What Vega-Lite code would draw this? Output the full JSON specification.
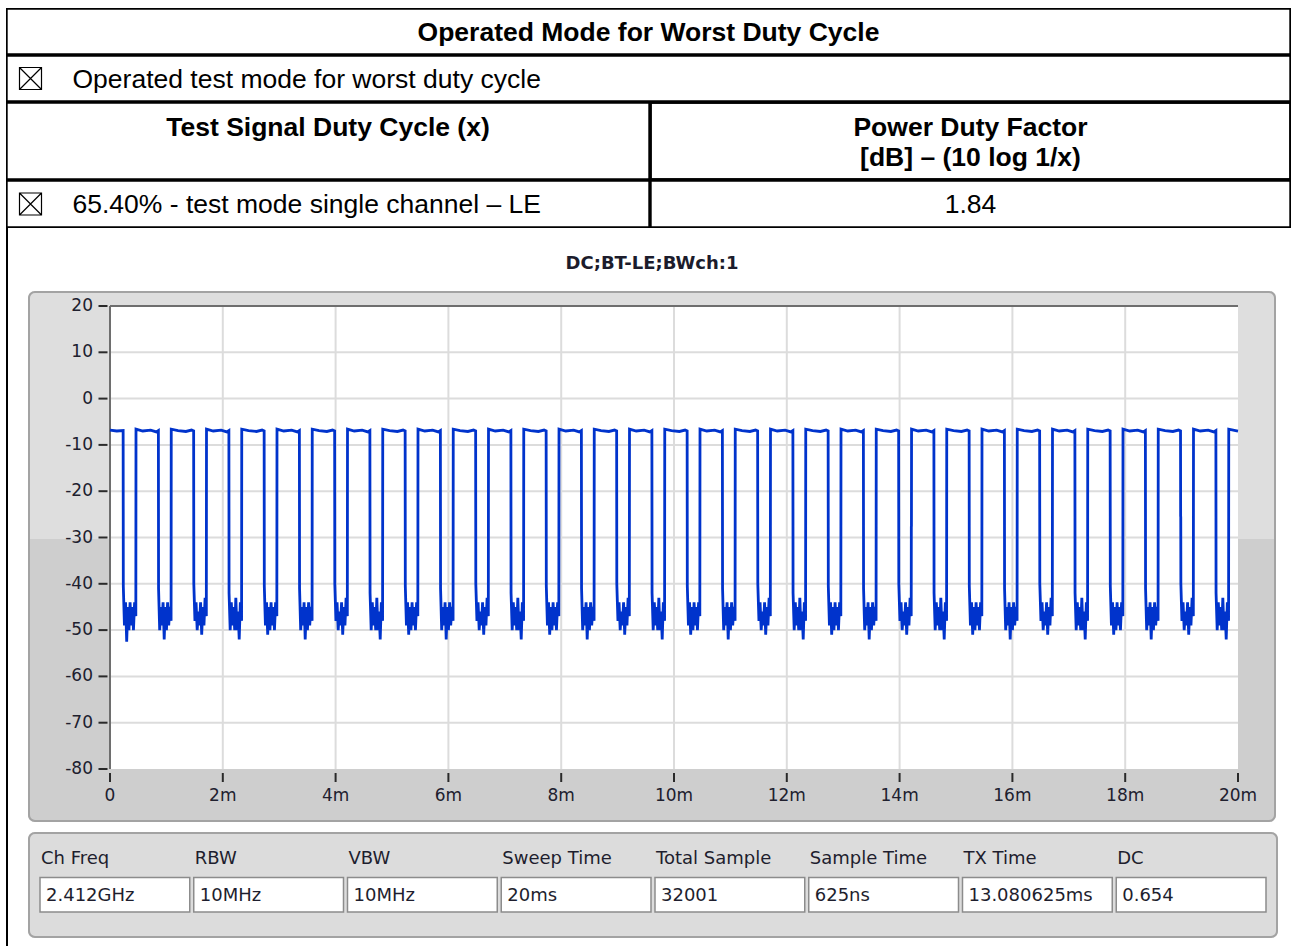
{
"$schema": "https://vega.github.io/schema/vega-lite/v6.json",
"background": "white",
"padding": {"left": 6, "top": 8, "right": 0, "bottom": 0},
"autosize": {"type": "pad"},
"config": {
  "view": {"stroke": null},
  "text": {"font": "Liberation Sans", "fontSize": 26.5, "color": "black", "baseline": "middle"}
},
"datasets": {
  "gridTime": [{"t":2},{"t":4},{"t":6},{"t":8},{"t":10},{"t":12},{"t":14},{"t":16},{"t":18}],
  "gridLevel": [{"v":-70},{"v":-60},{"v":-50},{"v":-40},{"v":-30},{"v":-20},{"v":-10},{"v":0},{"v":10}],
  "yTicks": [{"v":-80,"label":"-80"},{"v":-70,"label":"-70"},{"v":-60,"label":"-60"},{"v":-50,"label":"-50"},{"v":-40,"label":"-40"},{"v":-30,"label":"-30"},{"v":-20,"label":"-20"},{"v":-10,"label":"-10"},{"v":0,"label":"0"},{"v":10,"label":"10"},{"v":20,"label":"20"}],
  "xTicks": [{"t":0,"label":"0"},{"t":2,"label":"2m"},{"t":4,"label":"4m"},{"t":6,"label":"6m"},{"t":8,"label":"8m"},{"t":10,"label":"10m"},{"t":12,"label":"12m"},{"t":14,"label":"14m"},{"t":16,"label":"16m"},{"t":18,"label":"18m"},{"t":20,"label":"20m"}],
  "settings": [{"item":"Ch Freq","value":"2.412GHz"},{"item":"RBW","value":"10MHz"},{"item":"VBW","value":"10MHz"},{"item":"Sweep Time","value":"20ms"},{"item":"Total Sample","value":"32001"},{"item":"Sample Time","value":"625ns"},{"item":"TX Time","value":"13.080625ms"},{"item":"DC","value":"0.654"}],
  "trace": [
{"t":0,"v":-6.8},{"t":0.12,"v":-7},{"t":0.233,"v":-6.9},
{"t":0.236,"v":-40.5},{"t":0.256,"v":-49},{"t":0.276,"v":-44},{"t":0.296,"v":-52.5},{"t":0.316,"v":-45},{"t":0.336,"v":-50},{"t":0.356,"v":-44},{"t":0.376,"v":-49},{"t":0.396,"v":-45},{"t":0.416,"v":-50},{"t":0.436,"v":-44},{"t":0.458,"v":-47},{"t":0.461,"v":-6.6},{"t":0.581,"v":-7},{"t":0.721,"v":-6.8},{"t":0.821,"v":-7.2},{"t":0.858,"v":-6.9},
{"t":0.861,"v":-41},{"t":0.881,"v":-50},{"t":0.901,"v":-45},{"t":0.921,"v":-49},{"t":0.941,"v":-44},{"t":0.961,"v":-52},{"t":0.981,"v":-45},{"t":1.001,"v":-50},{"t":1.021,"v":-44},{"t":1.041,"v":-49},{"t":1.061,"v":-45},{"t":1.083,"v":-48},{"t":1.086,"v":-6.6},{"t":1.206,"v":-6.9},{"t":1.346,"v":-7.1},{"t":1.446,"v":-6.8},{"t":1.483,"v":-7},
{"t":1.486,"v":-40},{"t":1.506,"v":-48},{"t":1.526,"v":-44},{"t":1.546,"v":-50},{"t":1.566,"v":-46},{"t":1.586,"v":-49},{"t":1.606,"v":-44},{"t":1.626,"v":-51},{"t":1.646,"v":-45},{"t":1.666,"v":-49},{"t":1.686,"v":-43},{"t":1.708,"v":-47},{"t":1.711,"v":-6.6},{"t":1.831,"v":-7},{"t":1.971,"v":-6.8},{"t":2.071,"v":-7.2},{"t":2.108,"v":-6.9},
{"t":2.111,"v":-42},{"t":2.131,"v":-50},{"t":2.151,"v":-44},{"t":2.171,"v":-49},{"t":2.191,"v":-45},{"t":2.211,"v":-50},{"t":2.231,"v":-43},{"t":2.251,"v":-50},{"t":2.271,"v":-46},{"t":2.291,"v":-52},{"t":2.311,"v":-44},{"t":2.333,"v":-48},{"t":2.336,"v":-6.6},{"t":2.456,"v":-6.9},{"t":2.596,"v":-7.1},{"t":2.696,"v":-6.8},{"t":2.733,"v":-7},
{"t":2.736,"v":-40.5},{"t":2.756,"v":-49},{"t":2.776,"v":-44},{"t":2.796,"v":-51},{"t":2.816,"v":-45},{"t":2.836,"v":-50},{"t":2.856,"v":-44},{"t":2.876,"v":-49},{"t":2.896,"v":-45},{"t":2.916,"v":-50},{"t":2.936,"v":-44},{"t":2.958,"v":-47},{"t":2.961,"v":-6.6},{"t":3.081,"v":-7},{"t":3.221,"v":-6.8},{"t":3.321,"v":-7.2},{"t":3.358,"v":-6.9},
{"t":3.361,"v":-41},{"t":3.381,"v":-50},{"t":3.401,"v":-45},{"t":3.421,"v":-49},{"t":3.441,"v":-44},{"t":3.461,"v":-52},{"t":3.481,"v":-45},{"t":3.501,"v":-50},{"t":3.521,"v":-44},{"t":3.541,"v":-49},{"t":3.561,"v":-45},{"t":3.583,"v":-48},{"t":3.586,"v":-6.6},{"t":3.706,"v":-6.9},{"t":3.846,"v":-7.1},{"t":3.946,"v":-6.8},{"t":3.983,"v":-7},
{"t":3.986,"v":-40},{"t":4.006,"v":-48},{"t":4.026,"v":-44},{"t":4.046,"v":-50},{"t":4.066,"v":-46},{"t":4.086,"v":-49},{"t":4.106,"v":-44},{"t":4.126,"v":-51},{"t":4.146,"v":-45},{"t":4.166,"v":-49},{"t":4.186,"v":-43},{"t":4.208,"v":-47},{"t":4.211,"v":-6.6},{"t":4.331,"v":-7},{"t":4.471,"v":-6.8},{"t":4.571,"v":-7.2},{"t":4.608,"v":-6.9},
{"t":4.611,"v":-42},{"t":4.631,"v":-50},{"t":4.651,"v":-44},{"t":4.671,"v":-49},{"t":4.691,"v":-45},{"t":4.711,"v":-50},{"t":4.731,"v":-43},{"t":4.751,"v":-50},{"t":4.771,"v":-46},{"t":4.791,"v":-52},{"t":4.811,"v":-44},{"t":4.833,"v":-48},{"t":4.836,"v":-6.6},{"t":4.956,"v":-6.9},{"t":5.096,"v":-7.1},{"t":5.196,"v":-6.8},{"t":5.233,"v":-7},
{"t":5.236,"v":-40.5},{"t":5.256,"v":-49},{"t":5.276,"v":-44},{"t":5.296,"v":-51},{"t":5.316,"v":-45},{"t":5.336,"v":-50},{"t":5.356,"v":-44},{"t":5.376,"v":-49},{"t":5.396,"v":-45},{"t":5.416,"v":-50},{"t":5.436,"v":-44},{"t":5.458,"v":-47},{"t":5.461,"v":-6.6},{"t":5.581,"v":-7},{"t":5.721,"v":-6.8},{"t":5.821,"v":-7.2},{"t":5.858,"v":-6.9},
{"t":5.861,"v":-41},{"t":5.881,"v":-50},{"t":5.901,"v":-45},{"t":5.921,"v":-49},{"t":5.941,"v":-44},{"t":5.961,"v":-52},{"t":5.981,"v":-45},{"t":6.001,"v":-50},{"t":6.021,"v":-44},{"t":6.041,"v":-49},{"t":6.061,"v":-45},{"t":6.083,"v":-48},{"t":6.086,"v":-6.6},{"t":6.206,"v":-6.9},{"t":6.346,"v":-7.1},{"t":6.446,"v":-6.8},{"t":6.483,"v":-7},
{"t":6.486,"v":-40},{"t":6.506,"v":-48},{"t":6.526,"v":-44},{"t":6.546,"v":-50},{"t":6.566,"v":-46},{"t":6.586,"v":-49},{"t":6.606,"v":-44},{"t":6.626,"v":-51},{"t":6.646,"v":-45},{"t":6.666,"v":-49},{"t":6.686,"v":-43},{"t":6.708,"v":-47},{"t":6.711,"v":-6.6},{"t":6.831,"v":-7},{"t":6.971,"v":-6.8},{"t":7.071,"v":-7.2},{"t":7.108,"v":-6.9},
{"t":7.111,"v":-42},{"t":7.131,"v":-50},{"t":7.151,"v":-44},{"t":7.171,"v":-49},{"t":7.191,"v":-45},{"t":7.211,"v":-50},{"t":7.231,"v":-43},{"t":7.251,"v":-50},{"t":7.271,"v":-46},{"t":7.291,"v":-52},{"t":7.311,"v":-44},{"t":7.333,"v":-48},{"t":7.336,"v":-6.6},{"t":7.456,"v":-6.9},{"t":7.596,"v":-7.1},{"t":7.696,"v":-6.8},{"t":7.733,"v":-7},
{"t":7.736,"v":-40.5},{"t":7.756,"v":-49},{"t":7.776,"v":-44},{"t":7.796,"v":-51},{"t":7.816,"v":-45},{"t":7.836,"v":-50},{"t":7.856,"v":-44},{"t":7.876,"v":-49},{"t":7.896,"v":-45},{"t":7.916,"v":-50},{"t":7.936,"v":-44},{"t":7.958,"v":-47},{"t":7.961,"v":-6.6},{"t":8.081,"v":-7},{"t":8.221,"v":-6.8},{"t":8.321,"v":-7.2},{"t":8.358,"v":-6.9},
{"t":8.361,"v":-41},{"t":8.381,"v":-50},{"t":8.401,"v":-45},{"t":8.421,"v":-49},{"t":8.441,"v":-44},{"t":8.461,"v":-52},{"t":8.481,"v":-45},{"t":8.501,"v":-50},{"t":8.521,"v":-44},{"t":8.541,"v":-49},{"t":8.561,"v":-45},{"t":8.583,"v":-48},{"t":8.586,"v":-6.6},{"t":8.706,"v":-6.9},{"t":8.846,"v":-7.1},{"t":8.946,"v":-6.8},{"t":8.983,"v":-7},
{"t":8.986,"v":-40},{"t":9.006,"v":-48},{"t":9.026,"v":-44},{"t":9.046,"v":-50},{"t":9.066,"v":-46},{"t":9.086,"v":-49},{"t":9.106,"v":-44},{"t":9.126,"v":-51},{"t":9.146,"v":-45},{"t":9.166,"v":-49},{"t":9.186,"v":-43},{"t":9.208,"v":-47},{"t":9.211,"v":-6.6},{"t":9.331,"v":-7},{"t":9.471,"v":-6.8},{"t":9.571,"v":-7.2},{"t":9.608,"v":-6.9},
{"t":9.611,"v":-42},{"t":9.631,"v":-50},{"t":9.651,"v":-44},{"t":9.671,"v":-49},{"t":9.691,"v":-45},{"t":9.711,"v":-50},{"t":9.731,"v":-43},{"t":9.751,"v":-50},{"t":9.771,"v":-46},{"t":9.791,"v":-52},{"t":9.811,"v":-44},{"t":9.833,"v":-48},{"t":9.836,"v":-6.6},{"t":9.956,"v":-6.9},{"t":10.096,"v":-7.1},{"t":10.196,"v":-6.8},{"t":10.233,"v":-7},
{"t":10.236,"v":-40.5},{"t":10.256,"v":-49},{"t":10.276,"v":-44},{"t":10.296,"v":-51},{"t":10.316,"v":-45},{"t":10.336,"v":-50},{"t":10.356,"v":-44},{"t":10.376,"v":-49},{"t":10.396,"v":-45},{"t":10.416,"v":-50},{"t":10.436,"v":-44},{"t":10.458,"v":-47},{"t":10.461,"v":-6.6},{"t":10.581,"v":-7},{"t":10.721,"v":-6.8},{"t":10.821,"v":-7.2},{"t":10.858,"v":-6.9},
{"t":10.861,"v":-41},{"t":10.881,"v":-50},{"t":10.901,"v":-45},{"t":10.921,"v":-49},{"t":10.941,"v":-44},{"t":10.961,"v":-52},{"t":10.981,"v":-45},{"t":11.001,"v":-50},{"t":11.021,"v":-44},{"t":11.041,"v":-49},{"t":11.061,"v":-45},{"t":11.083,"v":-48},{"t":11.086,"v":-6.6},{"t":11.206,"v":-6.9},{"t":11.346,"v":-7.1},{"t":11.446,"v":-6.8},{"t":11.483,"v":-7},
{"t":11.486,"v":-40},{"t":11.506,"v":-48},{"t":11.526,"v":-44},{"t":11.546,"v":-50},{"t":11.566,"v":-46},{"t":11.586,"v":-49},{"t":11.606,"v":-44},{"t":11.626,"v":-51},{"t":11.646,"v":-45},{"t":11.666,"v":-49},{"t":11.686,"v":-43},{"t":11.708,"v":-47},{"t":11.711,"v":-6.6},{"t":11.831,"v":-7},{"t":11.971,"v":-6.8},{"t":12.071,"v":-7.2},{"t":12.108,"v":-6.9},
{"t":12.111,"v":-42},{"t":12.131,"v":-50},{"t":12.151,"v":-44},{"t":12.171,"v":-49},{"t":12.191,"v":-45},{"t":12.211,"v":-50},{"t":12.231,"v":-43},{"t":12.251,"v":-50},{"t":12.271,"v":-46},{"t":12.291,"v":-52},{"t":12.311,"v":-44},{"t":12.333,"v":-48},{"t":12.336,"v":-6.6},{"t":12.456,"v":-6.9},{"t":12.596,"v":-7.1},{"t":12.696,"v":-6.8},{"t":12.733,"v":-7},
{"t":12.736,"v":-40.5},{"t":12.756,"v":-49},{"t":12.776,"v":-44},{"t":12.796,"v":-51},{"t":12.816,"v":-45},{"t":12.836,"v":-50},{"t":12.856,"v":-44},{"t":12.876,"v":-49},{"t":12.896,"v":-45},{"t":12.916,"v":-50},{"t":12.936,"v":-44},{"t":12.958,"v":-47},{"t":12.961,"v":-6.6},{"t":13.081,"v":-7},{"t":13.221,"v":-6.8},{"t":13.321,"v":-7.2},{"t":13.358,"v":-6.9},
{"t":13.361,"v":-41},{"t":13.381,"v":-50},{"t":13.401,"v":-45},{"t":13.421,"v":-49},{"t":13.441,"v":-44},{"t":13.461,"v":-52},{"t":13.481,"v":-45},{"t":13.501,"v":-50},{"t":13.521,"v":-44},{"t":13.541,"v":-49},{"t":13.561,"v":-45},{"t":13.583,"v":-48},{"t":13.586,"v":-6.6},{"t":13.706,"v":-6.9},{"t":13.846,"v":-7.1},{"t":13.946,"v":-6.8},{"t":13.983,"v":-7},
{"t":13.986,"v":-40},{"t":14.006,"v":-48},{"t":14.026,"v":-44},{"t":14.046,"v":-50},{"t":14.066,"v":-46},{"t":14.086,"v":-49},{"t":14.106,"v":-44},{"t":14.126,"v":-51},{"t":14.146,"v":-45},{"t":14.166,"v":-49},{"t":14.186,"v":-43},{"t":14.206,"v":-47},{"t":14.208,"v":-27.7},{"t":14.21,"v":-27.5},{"t":14.212,"v":-6.6},{"t":14.331,"v":-7},{"t":14.471,"v":-6.8},{"t":14.571,"v":-7.2},{"t":14.608,"v":-6.9},
{"t":14.611,"v":-42},{"t":14.631,"v":-50},{"t":14.651,"v":-44},{"t":14.671,"v":-49},{"t":14.691,"v":-45},{"t":14.711,"v":-50},{"t":14.731,"v":-43},{"t":14.751,"v":-50},{"t":14.771,"v":-46},{"t":14.791,"v":-52},{"t":14.811,"v":-44},{"t":14.833,"v":-48},{"t":14.836,"v":-6.6},{"t":14.956,"v":-6.9},{"t":15.096,"v":-7.1},{"t":15.196,"v":-6.8},{"t":15.233,"v":-7},
{"t":15.236,"v":-40.5},{"t":15.256,"v":-49},{"t":15.276,"v":-44},{"t":15.296,"v":-51},{"t":15.316,"v":-45},{"t":15.336,"v":-50},{"t":15.356,"v":-44},{"t":15.376,"v":-49},{"t":15.396,"v":-45},{"t":15.416,"v":-50},{"t":15.436,"v":-44},{"t":15.458,"v":-47},{"t":15.461,"v":-6.6},{"t":15.581,"v":-7},{"t":15.721,"v":-6.8},{"t":15.821,"v":-7.2},{"t":15.858,"v":-6.9},
{"t":15.861,"v":-41},{"t":15.881,"v":-50},{"t":15.901,"v":-45},{"t":15.921,"v":-49},{"t":15.941,"v":-44},{"t":15.961,"v":-52},{"t":15.981,"v":-45},{"t":16.001,"v":-50},{"t":16.021,"v":-44},{"t":16.041,"v":-49},{"t":16.061,"v":-45},{"t":16.083,"v":-48},{"t":16.086,"v":-6.6},{"t":16.206,"v":-6.9},{"t":16.346,"v":-7.1},{"t":16.446,"v":-6.8},{"t":16.483,"v":-7},
{"t":16.486,"v":-40},{"t":16.506,"v":-48},{"t":16.526,"v":-44},{"t":16.546,"v":-50},{"t":16.566,"v":-46},{"t":16.586,"v":-49},{"t":16.606,"v":-44},{"t":16.626,"v":-51},{"t":16.646,"v":-45},{"t":16.666,"v":-49},{"t":16.686,"v":-43},{"t":16.708,"v":-47},{"t":16.711,"v":-6.6},{"t":16.831,"v":-7},{"t":16.971,"v":-6.8},{"t":17.071,"v":-7.2},{"t":17.108,"v":-6.9},
{"t":17.111,"v":-42},{"t":17.131,"v":-50},{"t":17.151,"v":-44},{"t":17.171,"v":-49},{"t":17.191,"v":-45},{"t":17.211,"v":-50},{"t":17.231,"v":-43},{"t":17.251,"v":-50},{"t":17.271,"v":-46},{"t":17.291,"v":-52},{"t":17.311,"v":-44},{"t":17.333,"v":-48},{"t":17.336,"v":-6.6},{"t":17.456,"v":-6.9},{"t":17.596,"v":-7.1},{"t":17.696,"v":-6.8},{"t":17.733,"v":-7},
{"t":17.736,"v":-40.5},{"t":17.756,"v":-49},{"t":17.776,"v":-44},{"t":17.796,"v":-51},{"t":17.816,"v":-45},{"t":17.836,"v":-50},{"t":17.856,"v":-44},{"t":17.876,"v":-49},{"t":17.896,"v":-45},{"t":17.916,"v":-50},{"t":17.936,"v":-44},{"t":17.958,"v":-47},{"t":17.961,"v":-6.6},{"t":18.081,"v":-7},{"t":18.221,"v":-6.8},{"t":18.321,"v":-7.2},{"t":18.358,"v":-6.9},
{"t":18.361,"v":-41},{"t":18.381,"v":-50},{"t":18.401,"v":-45},{"t":18.421,"v":-49},{"t":18.441,"v":-44},{"t":18.461,"v":-52},{"t":18.481,"v":-45},{"t":18.501,"v":-50},{"t":18.521,"v":-44},{"t":18.541,"v":-49},{"t":18.561,"v":-45},{"t":18.583,"v":-48},{"t":18.586,"v":-6.6},{"t":18.706,"v":-6.9},{"t":18.846,"v":-7.1},{"t":18.946,"v":-6.8},{"t":18.981,"v":-7},
{"t":18.983,"v":-25.4},{"t":18.985,"v":-25.6},{"t":18.987,"v":-40},{"t":19.006,"v":-48},{"t":19.026,"v":-44},{"t":19.046,"v":-50},{"t":19.066,"v":-46},{"t":19.086,"v":-49},{"t":19.106,"v":-44},{"t":19.126,"v":-51},{"t":19.146,"v":-45},{"t":19.166,"v":-49},{"t":19.186,"v":-43},{"t":19.208,"v":-47},{"t":19.211,"v":-6.6},{"t":19.331,"v":-7},{"t":19.471,"v":-6.8},{"t":19.571,"v":-7.2},{"t":19.608,"v":-6.9},
{"t":19.611,"v":-42},{"t":19.631,"v":-50},{"t":19.651,"v":-44},{"t":19.671,"v":-49},{"t":19.691,"v":-45},{"t":19.711,"v":-50},{"t":19.731,"v":-43},{"t":19.751,"v":-50},{"t":19.771,"v":-46},{"t":19.791,"v":-52},{"t":19.811,"v":-44},{"t":19.833,"v":-48},{"t":19.836,"v":-6.6},{"t":19.956,"v":-6.9},{"t":20,"v":-7}
  ]
},
"spacing": 0,
"vconcat": [
  {
    "width": 1285, "height": 47,
    "data": {"values": [{"heading": "Operated Mode for Worst Duty Cycle"}]},
    "resolve": {"scale": {"x": "independent", "y": "independent"}},
    "layer": [
      {
        "mark": {"type": "text", "fontWeight": "bold", "dy": 1.5},
        "encoding": {"x": {"field": "heading", "type": "nominal", "axis": null}, "text": {"field": "heading"}}
      },
      {"mark": {"type": "rect", "filled": false, "stroke": "black", "strokeWidth": 3.4, "clip": true}, "encoding": {}}
    ]
  },
  {
    "width": 1285, "height": 47,
    "data": {"values": [{"status": "checked", "label": "Operated test mode for worst duty cycle"}]},
    "resolve": {"scale": {"x": "independent", "y": "independent"}},
    "layer": [
      {
        "layer": [
          {
            "mark": {"type": "point", "shape": "M-1,-1L1,-1L1,1L-1,1Z M-1,-1L1,1 M1,-1L-1,1", "filled": false, "stroke": "black", "strokeWidth": 1.2, "size": 484, "opacity": 1, "dy": 1.5},
            "encoding": {"x": {"datum": "box", "scale": {"domain": ["box", "label"], "range": [24.5, 66.5], "padding": 0}, "axis": null}}
          },
          {
            "mark": {"type": "text", "align": "left", "dy": 1.5},
            "encoding": {"x": {"datum": "label", "axis": null}, "text": {"field": "label"}}
          }
        ]
      },
      {"mark": {"type": "rect", "filled": false, "stroke": "black", "strokeWidth": 3.4, "clip": true}, "encoding": {}}
    ]
  },
  {
    "spacing": 0,
    "hconcat": [
      {
        "width": 644, "height": 78,
        "data": {"values": [{"line": 1, "text": "Test Signal Duty Cycle (x)"}]},
        "resolve": {"scale": {"x": "independent", "y": "independent"}},
        "layer": [
          {
            "mark": {"type": "text", "fontWeight": "bold", "dy": 1.5},
            "encoding": {
              "x": {"datum": "header", "axis": null},
              "y": {"field": "line", "type": "ordinal", "scale": {"domain": [1, 2], "padding": 0.8}, "axis": null},
              "text": {"field": "text"}
            }
          },
          {"mark": {"type": "rect", "filled": false, "stroke": "black", "strokeWidth": 3.4, "clip": true}, "encoding": {}}
        ]
      },
      {
        "width": 641, "height": 78,
        "data": {"values": [{"line": 1, "text": "Power Duty Factor"}, {"line": 2, "text": "[dB] – (10 log 1/x)"}]},
        "resolve": {"scale": {"x": "independent", "y": "independent"}},
        "layer": [
          {
            "mark": {"type": "text", "fontWeight": "bold", "dy": 1.5},
            "encoding": {
              "x": {"datum": "header", "axis": null},
              "y": {"field": "line", "type": "ordinal", "scale": {"domain": [1, 2], "padding": 0.8}, "axis": null},
              "text": {"field": "text"}
            }
          },
          {"mark": {"type": "rect", "filled": false, "stroke": "black", "strokeWidth": 3.4, "clip": true}, "encoding": {}}
        ]
      }
    ]
  },
  {
    "spacing": 0,
    "hconcat": [
      {
        "width": 644, "height": 48,
        "data": {"values": [{"status": "checked", "label": "65.40% - test mode single channel – LE"}]},
        "resolve": {"scale": {"x": "independent", "y": "independent"}},
        "layer": [
          {
            "layer": [
              {
                "mark": {"type": "point", "shape": "M-1,-1L1,-1L1,1L-1,1Z M-1,-1L1,1 M1,-1L-1,1", "filled": false, "stroke": "black", "strokeWidth": 1.2, "size": 484, "opacity": 1, "dy": 1},
                "encoding": {"x": {"datum": "box", "scale": {"domain": ["box", "label"], "range": [24.5, 66.5], "padding": 0}, "axis": null}}
              },
              {
                "mark": {"type": "text", "align": "left", "dy": 1},
                "encoding": {"x": {"datum": "label", "axis": null}, "text": {"field": "label"}}
              }
            ]
          },
          {"mark": {"type": "rect", "filled": false, "stroke": "black", "strokeWidth": 3.4, "clip": true}, "encoding": {}}
        ]
      },
      {
        "width": 641, "height": 48,
        "data": {"values": [{"factor": "1.84"}]},
        "resolve": {"scale": {"x": "independent", "y": "independent"}},
        "layer": [
          {
            "mark": {"type": "text", "dy": 1},
            "encoding": {"x": {"datum": "value", "axis": null}, "text": {"field": "factor"}}
          },
          {"mark": {"type": "rect", "filled": false, "stroke": "black", "strokeWidth": 3.4, "clip": true}, "encoding": {}}
        ]
      }
    ]
  },
  {
    "spacing": 20,
    "hconcat": [
      {
        "width": 2, "height": 720,
        "data": {"values": [{"border": "left"}]},
        "mark": {"type": "rect", "color": "black", "clip": true},
        "encoding": {}
      },
      {
        "spacing": 10,
        "vconcat": [
          {
            "width": 1248, "height": 53,
            "data": {"values": [{"title": "DC;BT-LE;BWch:1"}]},
            "mark": {"type": "text", "font": "DejaVu Sans", "fontSize": 18, "fontWeight": "bold", "color": "#1c1c2c", "dy": 9},
            "encoding": {"text": {"field": "title"}}
          },
          {
            "width": 1248, "height": 531,
            "view": {
              "fill": {"gradient": "linear", "x1": 0, "y1": 0, "x2": 0, "y2": 1, "stops": [{"offset": 0, "color": "#dedede"}, {"offset": 0.467, "color": "#dedede"}, {"offset": 0.468, "color": "#cecece"}, {"offset": 1, "color": "#cecece"}]},
              "stroke": null, "cornerRadius": 7
            },
            "resolve": {"scale": {"x": "independent", "y": "independent"}},
            "layer": [
              {
                "layer": [
                  {
                    "data": {"values": [{"area": "plot"}]},
                    "mark": {"type": "rect", "fill": "white"},
                    "encoding": {
                      "x": {"datum": 0, "scale": {"domain": [0, 20], "range": [82, 1210], "nice": false, "zero": false}, "axis": null},
                      "x2": {"datum": 20},
                      "y": {"datum": -80, "scale": {"domain": [-80, 20], "range": [478, 15], "nice": false, "zero": false}, "axis": null},
                      "y2": {"datum": 20}
                    }
                  },
                  {
                    "data": {"name": "gridTime"},
                    "mark": {"type": "rule", "color": "#dcdcdc", "strokeWidth": 2},
                    "encoding": {
                      "x": {"field": "t", "type": "quantitative", "axis": null},
                      "y": {"datum": -80, "axis": null},
                      "y2": {"datum": 20}
                    }
                  },
                  {
                    "data": {"name": "gridLevel"},
                    "mark": {"type": "rule", "color": "#dcdcdc", "strokeWidth": 2},
                    "encoding": {
                      "y": {"field": "v", "type": "quantitative", "axis": null},
                      "x": {"datum": 0, "axis": null},
                      "x2": {"datum": 20}
                    }
                  },
                  {
                    "data": {"values": [{"edge": "top"}]},
                    "mark": {"type": "rule", "color": "#6e6e6e", "strokeWidth": 2},
                    "encoding": {
                      "y": {"datum": 20, "axis": null},
                      "x": {"datum": 0, "axis": null},
                      "x2": {"datum": 20}
                    }
                  },
                  {
                    "data": {"values": [{"edge": "left"}]},
                    "mark": {"type": "rule", "color": "#6e6e6e", "strokeWidth": 2},
                    "encoding": {
                      "x": {"datum": 0, "axis": null},
                      "y": {"datum": -80, "axis": null},
                      "y2": {"datum": 20}
                    }
                  },
                  {
                    "data": {"name": "yTicks"},
                    "mark": {"type": "tick", "orient": "horizontal", "color": "#2a2a2a", "size": 9, "thickness": 2, "xOffset": -7, "opacity": 1},
                    "encoding": {
                      "x": {"datum": 0, "axis": null},
                      "y": {"field": "v", "type": "quantitative", "axis": null}
                    }
                  },
                  {
                    "data": {"name": "yTicks"},
                    "mark": {"type": "text", "align": "right", "baseline": "middle", "font": "DejaVu Sans", "fontSize": 17, "color": "#20202e", "dx": -17},
                    "encoding": {
                      "x": {"datum": 0, "axis": null},
                      "y": {"field": "v", "type": "quantitative", "axis": null},
                      "text": {"field": "label"}
                    }
                  },
                  {
                    "data": {"name": "xTicks"},
                    "mark": {"type": "tick", "orient": "vertical", "color": "#2a2a2a", "size": 9, "thickness": 2, "yOffset": 8.5, "opacity": 1},
                    "encoding": {
                      "x": {"field": "t", "type": "quantitative", "axis": null},
                      "y": {"datum": -80, "axis": null}
                    }
                  },
                  {
                    "data": {"name": "xTicks"},
                    "mark": {"type": "text", "align": "center", "baseline": "middle", "font": "DejaVu Sans", "fontSize": 17, "color": "#20202e", "dy": 27},
                    "encoding": {
                      "x": {"field": "t", "type": "quantitative", "axis": null},
                      "y": {"datum": -80, "axis": null},
                      "text": {"field": "label"}
                    }
                  },
                  {
                    "data": {"name": "trace"},
                    "mark": {"type": "line", "color": "#0033cc", "strokeWidth": 2.8},
                    "encoding": {
                      "x": {"field": "t", "type": "quantitative", "axis": null},
                      "y": {"field": "v", "type": "quantitative", "axis": null}
                    }
                  }
                ]
              },
              {
                "data": {"values": [{"frame": "graph"}]},
                "mark": {"type": "rect", "filled": false, "stroke": "#a3a3a3", "strokeWidth": 4, "cornerRadius": 7, "clip": true},
                "encoding": {}
              }
            ]
          },
          {
            "width": 1250, "height": 106,
            "view": {"fill": "#dcdcdc", "stroke": null, "cornerRadius": 7},
            "resolve": {"scale": {"x": "independent", "y": "independent"}},
            "layer": [
              {
                "data": {"name": "settings"},
                "layer": [
                  {
                    "mark": {"type": "rect", "fill": "white", "stroke": "#8c8c8c", "strokeWidth": 1.5},
                    "encoding": {
                      "x": {"field": "item", "type": "nominal", "sort": null, "scale": {"type": "band", "domain": ["Ch Freq", "RBW", "VBW", "Sweep Time", "Total Sample", "Sample Time", "TX Time", "DC"], "range": [12, 1238], "paddingInner": 0.026, "paddingOuter": 0}, "axis": null},
                      "y": {"datum": "value", "scale": {"type": "band", "domain": ["label", "value"], "range": [8, 80], "paddingInner": 0.08, "paddingOuter": 0}, "axis": null}
                    }
                  },
                  {
                    "mark": {"type": "text", "align": "left", "font": "DejaVu Sans", "fontSize": 18, "color": "#1e1e2e", "dx": 1, "dy": 2},
                    "encoding": {
                      "x": {"field": "item", "type": "nominal", "sort": null, "bandPosition": 0, "axis": null},
                      "y": {"datum": "label", "axis": null},
                      "text": {"field": "item"}
                    }
                  },
                  {
                    "mark": {"type": "text", "align": "left", "font": "DejaVu Sans", "fontSize": 18, "color": "#1e1e2e", "dx": 6, "dy": 1.5},
                    "encoding": {
                      "x": {"field": "item", "type": "nominal", "sort": null, "bandPosition": 0, "axis": null},
                      "y": {"datum": "value", "axis": null},
                      "text": {"field": "value"}
                    }
                  }
                ]
              },
              {
                "data": {"values": [{"frame": "settings"}]},
                "mark": {"type": "rect", "filled": false, "stroke": "#a3a3a3", "strokeWidth": 4, "cornerRadius": 7, "clip": true},
                "encoding": {}
              }
            ]
          }
        ]
      }
    ]
  }
]
}
